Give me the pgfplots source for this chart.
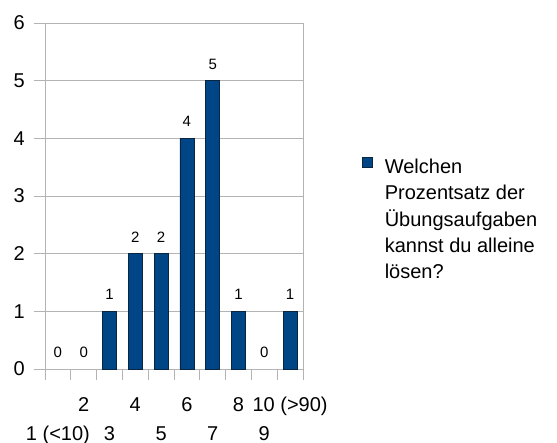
\documentclass[border=0pt]{standalone}
\usepackage{fontspec}
\setmainfont{Liberation Sans}
\usepackage{pgfplots}
\pgfplotsset{compat=1.18}
\definecolor{barblue}{HTML}{004586}
\definecolor{bardark}{HTML}{0A2540}
\definecolor{gridgray}{HTML}{B3B3B3}
\begin{document}
\begin{tikzpicture}
\useasboundingbox (0,0) rectangle (557bp,443bp);
\begin{axis}[
  at={(45bp,74bp)}, anchor=south west,
  scale only axis, width=258bp, height=346bp,
  xmin=0.5, xmax=10.5, ymin=0, ymax=6,
  axis line style={gridgray, line width=0.8bp},
  ytick={0,1,2,3,4,5,6},
  ymajorgrids, major grid style={gridgray, line width=0.8bp},
  xtick pos=bottom, ytick pos=left,
  tick align=outside,
  major tick length=11bp, minor tick length=11bp,
  tick style={gridgray, line width=0.8bp},
  major x tick style={draw=none},
  xtick={2,4,6,8,10},
  xticklabels={2,4,6,8,10 (>90)},
  minor xtick={0.5,1.5,2.5,3.5,4.5,5.5,6.5,7.5,8.5,9.5,10.5},
  extra x ticks={1,3,5,7,9},
  extra x tick labels={1 (<10),3,5,7,9},
  extra x tick style={grid=none, major x tick style={draw=none}, xticklabel style={yshift=-29bp}},
  xticklabel style={font=\fontsize{20bp}{24bp}\selectfont, anchor=base, inner sep=0pt, yshift=-31bp},
  yticklabel style={font=\fontsize{20bp}{24bp}\selectfont, anchor=east, inner sep=0pt, xshift=-9bp},
  /pgf/number format/assume math mode=true,
  ybar, bar width=14bp, bar shift=0pt,
  nodes near coords,
  every node near coord/.append style={font=\fontsize{15bp}{18bp}\selectfont, anchor=base, inner sep=0pt, yshift=11.5bp, black},
  legend style={draw=none, fill=none, inner sep=0pt, outer sep=0pt,
    at={(1,1)}, anchor=north west, xshift=59bp, yshift=-132bp,
    column sep=12bp,
    nodes={inner sep=0pt, font=\fontsize{20bp}{26.3bp}\selectfont}},
  legend image code/.code={\draw[fill=barblue, draw=bardark, line width=0.8bp] (0bp,-2.5bp) rectangle (10bp,7.5bp);},
]
\addplot[fill=barblue, draw=bardark, line width=0.8bp] coordinates {(3,1) (4,2) (5,2) (6,4) (7,5) (8,1) (10,1)};
\addlegendentry{\begin{tabular}[t]{@{}l@{}}Welchen\\Prozentsatz der\\Übungsaufgaben\\kannst du alleine\\lösen?\end{tabular}}
\addplot[draw=none, fill=none, forget plot] coordinates {(1,0) (2,0) (9,0)};
\end{axis}
\end{tikzpicture}
\end{document}
